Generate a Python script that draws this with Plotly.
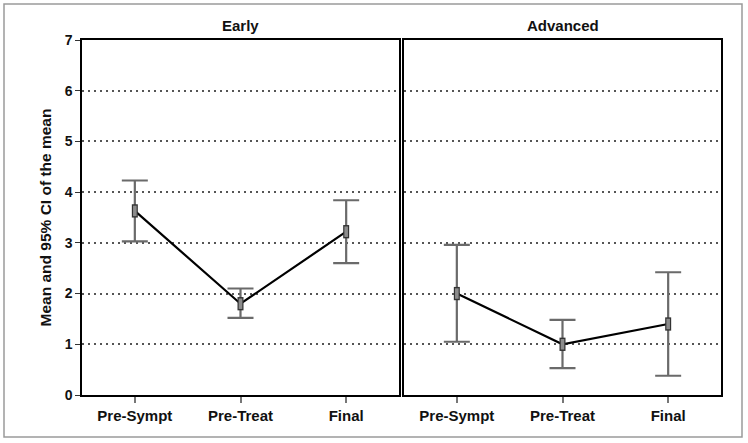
import plotly.graph_objects as go
from plotly.subplots import make_subplots

categories = ["Pre-Sympt", "Pre-Treat", "Final"]
panels = ["Early", "Advanced"]
early_mean = [3.63, 1.80, 3.22]
early_lo = [3.03, 1.52, 2.60]
early_hi = [4.23, 2.10, 3.84]
adv_mean = [2.00, 1.00, 1.40]
adv_lo = [1.05, 0.53, 0.38]
adv_hi = [2.96, 1.48, 2.42]
y_ticks = [0, 1, 2, 3, 4, 5, 6, 7]

W, H = 748, 443
L, R, T, B = 82, 27, 40, 48
pw = W - L - R
ph = H - T - B

fig = make_subplots(rows=1, cols=2, shared_yaxes=True, horizontal_spacing=5 / pw)

FONT = "Liberation Sans, Arial, sans-serif"

for i, (m, lo, hi) in enumerate([(early_mean, early_lo, early_hi), (adv_mean, adv_lo, adv_hi)]):
    col = i + 1
    plus = [h - v for h, v in zip(hi, m)]
    minus = [v - l for v, l in zip(m, lo)]
    fig.add_trace(go.Scatter(
        x=categories, y=m, mode="markers",
        marker=dict(size=0.1, color="rgba(0,0,0,0)"),
        error_y=dict(type="data", symmetric=False, array=plus, arrayminus=minus,
                     color="#6a6a6a", thickness=2.2, width=13),
        showlegend=False, hoverinfo="skip"), row=1, col=col)
    fig.add_trace(go.Scatter(
        x=categories, y=m, mode="lines",
        line=dict(color="black", width=2.2),
        showlegend=False), row=1, col=col)
    # tall rectangle marker: dark outline then gray fill
    fig.add_trace(go.Scatter(
        x=categories, y=m, mode="markers",
        marker=dict(symbol="line-ns", size=9.5, color="#333333",
                    line=dict(color="#333333", width=6)),
        showlegend=False, hoverinfo="skip"), row=1, col=col)
    fig.add_trace(go.Scatter(
        x=categories, y=m, mode="markers",
        marker=dict(symbol="line-ns", size=7.5, color="#8c8c8c",
                    line=dict(color="#8c8c8c", width=3.6)),
        showlegend=False), row=1, col=col)

for col in (1, 2):
    fig.update_xaxes(row=1, col=col, type="category", range=[-0.5, 2.5], automargin=False,
                     showline=True, linecolor="black", linewidth=1.5, mirror=True,
                     ticks="outside", ticklen=6, tickcolor="#777", tickwidth=1.5,
                     showgrid=False, zeroline=False,
                     tickfont=dict(family=FONT, size=15, color="#111", weight="bold"))
    fig.update_yaxes(row=1, col=col, range=[0, 7], tickvals=y_ticks, automargin=False,
                     showline=True, linecolor="black", linewidth=1.5, mirror=True,
                     showgrid=True, gridcolor="#555", griddash="2px,4px", gridwidth=1.5,
                     zeroline=False)

fig.update_yaxes(row=1, col=1, ticks="outside", ticklen=5, tickcolor="#333",
                 tickfont=dict(family=FONT, size=14, color="#111", weight="bold"),
                 title=dict(text="<b>Mean and 95% CI of the mean</b>",
                            font=dict(family=FONT, size=15.5, color="#111"), standoff=9))
fig.update_yaxes(row=1, col=2, ticks="", showticklabels=False)

# Subplot titles
for i, name in enumerate(panels):
    fig.add_annotation(text="<b>" + name + "</b>", xref="x%s domain" % ("" if i == 0 else "2"),
                       yref="paper", x=0.5, y=1, yshift=15, showarrow=False,
                       font=dict(family=FONT, size=15, color="#111"), yanchor="middle")

# outer frame
fig.add_shape(type="rect", xref="paper", yref="paper",
              x0=(4 - L) / pw, x1=(742 - L) / pw,
              y0=1 - (437 - T) / ph, y1=1 - (4 - T) / ph,
              line=dict(color="#9a9a9a", width=1.5), layer="below")

fig.update_layout(width=W, height=H, margin=dict(l=L, r=R, t=T, b=B, autoexpand=False),
                  plot_bgcolor="white", paper_bgcolor="white",
                  font=dict(family=FONT, color="#111"))

fig.write_html("out.html", config={"displayModeBar": False})

with open("out.html", encoding="utf-8") as f:
    html = f.read()
html = html.replace("<head>", "<head><style>html,body{margin:0;padding:0;overflow:hidden;}</style>", 1)
with open("out.html", "w", encoding="utf-8") as f:
    f.write(html)
